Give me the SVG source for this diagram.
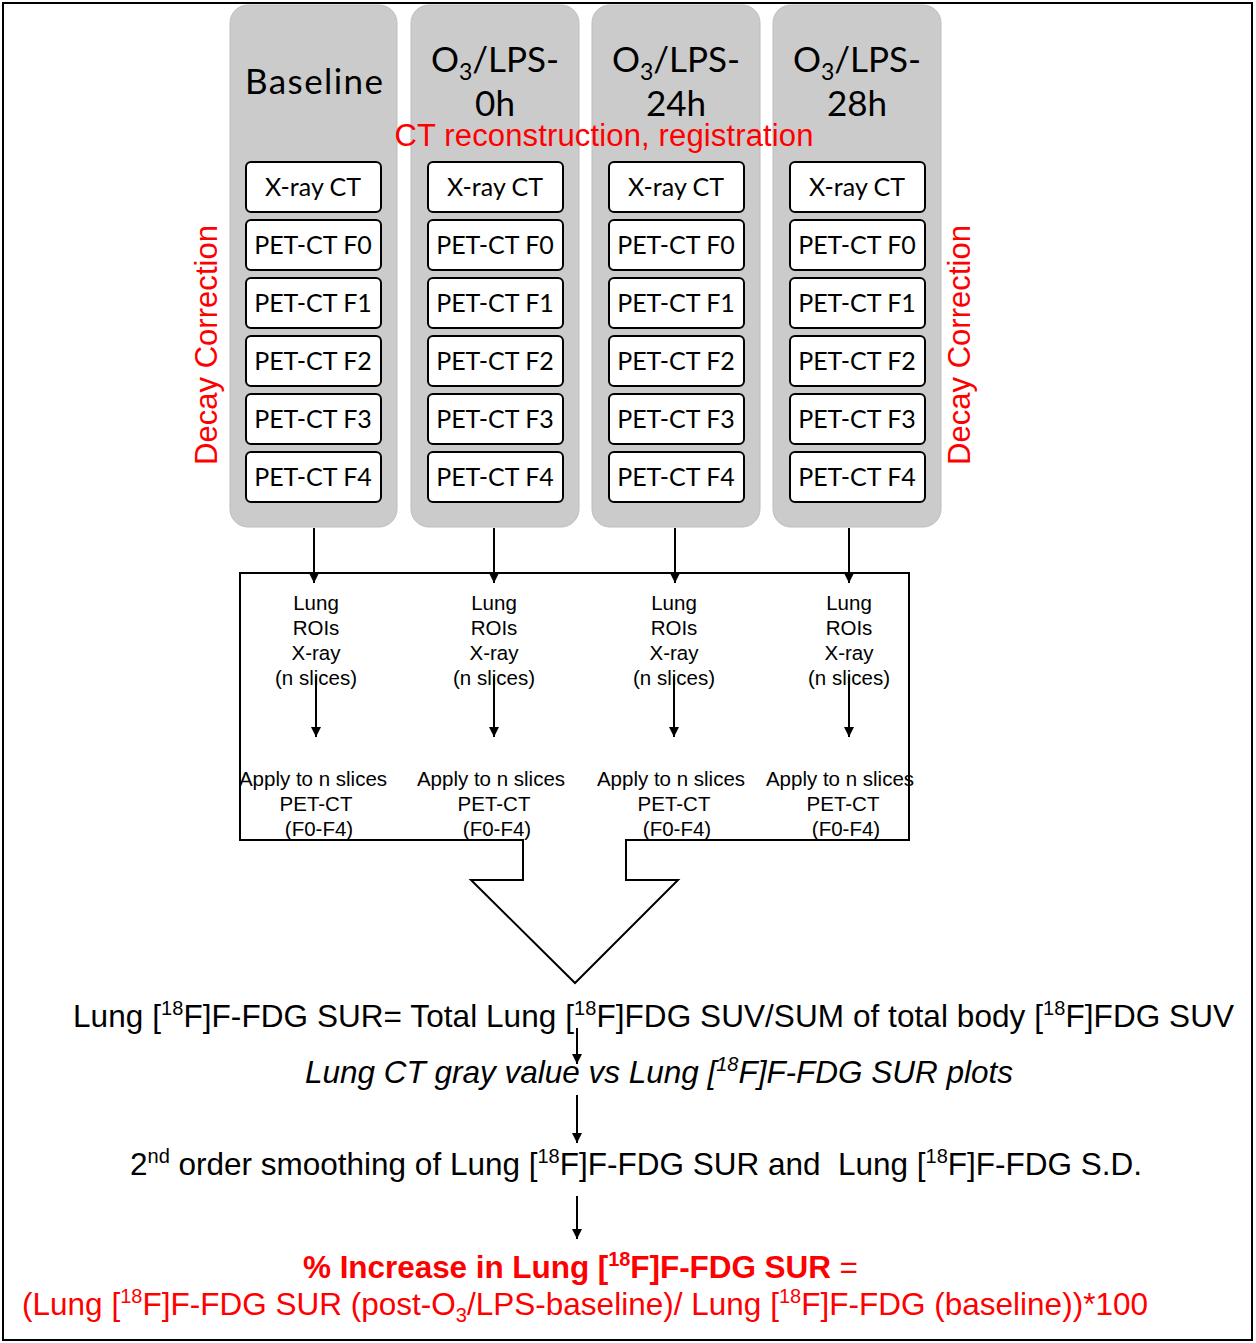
<svg xmlns="http://www.w3.org/2000/svg" width="1256" height="1343" viewBox="0 0 1256 1343">
<defs>
<style>
.col{fill:#cbcbcb;stroke:#bdbdbd;stroke-width:1}
.box{fill:#fff;stroke:#000;stroke-width:2}
.hd{font-family:Lato,"Open Sans",sans-serif;font-size:35px;fill:#000;text-anchor:middle}
.bt{font-family:Lato,"Open Sans",sans-serif;font-size:25px;fill:#000;text-anchor:middle}
.red{font-family:"Liberation Sans",Arial,sans-serif;fill:#ff0000}
.sm{font-family:"Liberation Sans",Arial,sans-serif;font-size:20.5px;fill:#000;text-anchor:middle}
.big{font-family:"Liberation Sans",Arial,sans-serif;font-size:31.5px;fill:#000}
.ln{stroke:#000;stroke-width:2;fill:none}
</style>
<marker id="ah" viewBox="0 0 10 10" refX="10" refY="5" markerWidth="5" markerHeight="5" orient="auto" markerUnits="strokeWidth">
<path d="M0,0 L10,5 L0,10 z" fill="#000"/>
</marker>
</defs>
<rect x="3" y="3" width="1249" height="1337" fill="#fff" stroke="#000" stroke-width="2"/>

<g id="col-baseline">
<rect class="col" x="230" y="5" width="167" height="522" rx="18"/>
<text class="hd" x="314" y="94" textLength="138">Baseline</text>
</g>
<g id="col-0h">
<rect class="col" x="411" y="5" width="168" height="522" rx="18"/>
<text class="hd" x="495" y="72">O<tspan font-size="23" dy="8">3</tspan><tspan dy="-8">/LPS-</tspan></text>
<text class="hd" x="495" y="116">0h</text>
</g>
<g id="col-24h">
<rect class="col" x="592" y="5" width="168" height="522" rx="18"/>
<text class="hd" x="676" y="72">O<tspan font-size="23" dy="8">3</tspan><tspan dy="-8">/LPS-</tspan></text>
<text class="hd" x="676" y="116">24h</text>
</g>
<g id="col-28h">
<rect class="col" x="773" y="5" width="168" height="522" rx="18"/>
<text class="hd" x="857" y="72">O<tspan font-size="23" dy="8">3</tspan><tspan dy="-8">/LPS-</tspan></text>
<text class="hd" x="857" y="116">28h</text>
</g>

<g id="boxes-baseline">
<rect class="box" x="246" y="162" width="135" height="50" rx="5"/><text class="bt" x="313" y="196">X-ray CT</text>
<rect class="box" x="246" y="220" width="135" height="50" rx="5"/><text class="bt" x="313" y="254">PET-CT F0</text>
<rect class="box" x="246" y="278" width="135" height="50" rx="5"/><text class="bt" x="313" y="312">PET-CT F1</text>
<rect class="box" x="246" y="336" width="135" height="50" rx="5"/><text class="bt" x="313" y="370">PET-CT F2</text>
<rect class="box" x="246" y="394" width="135" height="50" rx="5"/><text class="bt" x="313" y="428">PET-CT F3</text>
<rect class="box" x="246" y="452" width="135" height="50" rx="5"/><text class="bt" x="313" y="486">PET-CT F4</text>
</g>
<g id="boxes-0h">
<rect class="box" x="428" y="162" width="135" height="50" rx="5"/><text class="bt" x="495" y="196">X-ray CT</text>
<rect class="box" x="428" y="220" width="135" height="50" rx="5"/><text class="bt" x="495" y="254">PET-CT F0</text>
<rect class="box" x="428" y="278" width="135" height="50" rx="5"/><text class="bt" x="495" y="312">PET-CT F1</text>
<rect class="box" x="428" y="336" width="135" height="50" rx="5"/><text class="bt" x="495" y="370">PET-CT F2</text>
<rect class="box" x="428" y="394" width="135" height="50" rx="5"/><text class="bt" x="495" y="428">PET-CT F3</text>
<rect class="box" x="428" y="452" width="135" height="50" rx="5"/><text class="bt" x="495" y="486">PET-CT F4</text>
</g>
<g id="boxes-24h">
<rect class="box" x="609" y="162" width="135" height="50" rx="5"/><text class="bt" x="676" y="196">X-ray CT</text>
<rect class="box" x="609" y="220" width="135" height="50" rx="5"/><text class="bt" x="676" y="254">PET-CT F0</text>
<rect class="box" x="609" y="278" width="135" height="50" rx="5"/><text class="bt" x="676" y="312">PET-CT F1</text>
<rect class="box" x="609" y="336" width="135" height="50" rx="5"/><text class="bt" x="676" y="370">PET-CT F2</text>
<rect class="box" x="609" y="394" width="135" height="50" rx="5"/><text class="bt" x="676" y="428">PET-CT F3</text>
<rect class="box" x="609" y="452" width="135" height="50" rx="5"/><text class="bt" x="676" y="486">PET-CT F4</text>
</g>
<g id="boxes-28h">
<rect class="box" x="790" y="162" width="135" height="50" rx="5"/><text class="bt" x="857" y="196">X-ray CT</text>
<rect class="box" x="790" y="220" width="135" height="50" rx="5"/><text class="bt" x="857" y="254">PET-CT F0</text>
<rect class="box" x="790" y="278" width="135" height="50" rx="5"/><text class="bt" x="857" y="312">PET-CT F1</text>
<rect class="box" x="790" y="336" width="135" height="50" rx="5"/><text class="bt" x="857" y="370">PET-CT F2</text>
<rect class="box" x="790" y="394" width="135" height="50" rx="5"/><text class="bt" x="857" y="428">PET-CT F3</text>
<rect class="box" x="790" y="452" width="135" height="50" rx="5"/><text class="bt" x="857" y="486">PET-CT F4</text>
</g>

<g id="labels-red">
<text class="red" x="604" y="146" font-size="31" text-anchor="middle" textLength="419">CT reconstruction, registration</text>
<text class="red" font-size="31" text-anchor="middle" textLength="240" transform="translate(217,345) rotate(-90)">Decay Correction</text>
<text class="red" font-size="31" text-anchor="middle" textLength="240" transform="translate(970,345) rotate(-90)">Decay Correction</text>
</g>

<g id="roi-box">
<path class="ln" d="M240,573 H909 V840 H626 V880 H678 L575,983 L471,880 H523 V840 H240 Z"/>
<text class="sm" x="316" y="610">Lung</text><text class="sm" x="316" y="635">ROIs</text><text class="sm" x="316" y="660">X-ray</text><text class="sm" x="316" y="685">(n slices)</text>
<text class="sm" x="494" y="610">Lung</text><text class="sm" x="494" y="635">ROIs</text><text class="sm" x="494" y="660">X-ray</text><text class="sm" x="494" y="685">(n slices)</text>
<text class="sm" x="674" y="610">Lung</text><text class="sm" x="674" y="635">ROIs</text><text class="sm" x="674" y="660">X-ray</text><text class="sm" x="674" y="685">(n slices)</text>
<text class="sm" x="849" y="610">Lung</text><text class="sm" x="849" y="635">ROIs</text><text class="sm" x="849" y="660">X-ray</text><text class="sm" x="849" y="685">(n slices)</text>
<text class="sm" x="313" y="786">Apply to n slices</text><text class="sm" x="316" y="811">PET-CT</text><text class="sm" x="319" y="836">(F0-F4)</text>
<text class="sm" x="491" y="786">Apply to n slices</text><text class="sm" x="494" y="811">PET-CT</text><text class="sm" x="497" y="836">(F0-F4)</text>
<text class="sm" x="671" y="786">Apply to n slices</text><text class="sm" x="674" y="811">PET-CT</text><text class="sm" x="677" y="836">(F0-F4)</text>
<text class="sm" x="840" y="786">Apply to n slices</text><text class="sm" x="843" y="811">PET-CT</text><text class="sm" x="846" y="836">(F0-F4)</text>
</g>

<g id="connectors">
<line class="ln" x1="314" y1="528" x2="314" y2="583" marker-end="url(#ah)"/>
<line class="ln" x1="494" y1="528" x2="494" y2="583" marker-end="url(#ah)"/>
<line class="ln" x1="675" y1="528" x2="675" y2="583" marker-end="url(#ah)"/>
<line class="ln" x1="849" y1="528" x2="849" y2="583" marker-end="url(#ah)"/>
<line class="ln" x1="316" y1="676" x2="316" y2="737" marker-end="url(#ah)"/>
<line class="ln" x1="494" y1="676" x2="494" y2="737" marker-end="url(#ah)"/>
<line class="ln" x1="674" y1="676" x2="674" y2="737" marker-end="url(#ah)"/>
<line class="ln" x1="849" y1="676" x2="849" y2="737" marker-end="url(#ah)"/>
<line class="ln" x1="577" y1="1028" x2="577" y2="1064" marker-end="url(#ah)"/>
<line class="ln" x1="577" y1="1095" x2="577" y2="1143" marker-end="url(#ah)"/>
<line class="ln" x1="577" y1="1196" x2="577" y2="1239" marker-end="url(#ah)"/>
</g>

<g id="formula-sur">
<text class="big" x="73" y="1027" textLength="1161">Lung [<tspan font-size="20" dy="-12">18</tspan><tspan dy="12">F]F-FDG SUR= Total Lung [</tspan><tspan font-size="20" dy="-12">18</tspan><tspan dy="12">F]FDG SUV/SUM of total body [</tspan><tspan font-size="20" dy="-12">18</tspan><tspan dy="12">F]FDG SUV</tspan></text>
</g>
<g id="plots">
<text class="big" x="305" y="1083" font-style="italic" textLength="708">Lung CT gray value vs Lung [<tspan font-size="20" dy="-12">18</tspan><tspan dy="12">F]F-FDG SUR plots</tspan></text>
</g>
<g id="smoothing">
<text class="big" x="130" y="1175" textLength="1012">2<tspan font-size="20" dy="-12">nd</tspan><tspan dy="12"> order smoothing of Lung [</tspan><tspan font-size="20" dy="-12">18</tspan><tspan dy="12">F]F-FDG SUR and&#160; Lung [</tspan><tspan font-size="20" dy="-12">18</tspan><tspan dy="12">F]F-FDG S.D.</tspan></text>
</g>
<g id="increase">
<text class="red" x="303" y="1278" font-size="31.5" textLength="555"><tspan font-weight="bold">% Increase in Lung [</tspan><tspan font-weight="bold" font-size="20" dy="-12">18</tspan><tspan font-weight="bold" dy="12">F]F-FDG SUR</tspan> =</text>
<text class="red" x="22" y="1315" font-size="31.5" textLength="1126">(Lung [<tspan font-size="20" dy="-12">18</tspan><tspan dy="12">F]F-FDG SUR (post-O</tspan><tspan font-size="20" dy="7">3</tspan><tspan dy="-7">/LPS-baseline)/ Lung [</tspan><tspan font-size="20" dy="-12">18</tspan><tspan dy="12">F]F-FDG (baseline))*100</tspan></text>
</g>
</svg>
